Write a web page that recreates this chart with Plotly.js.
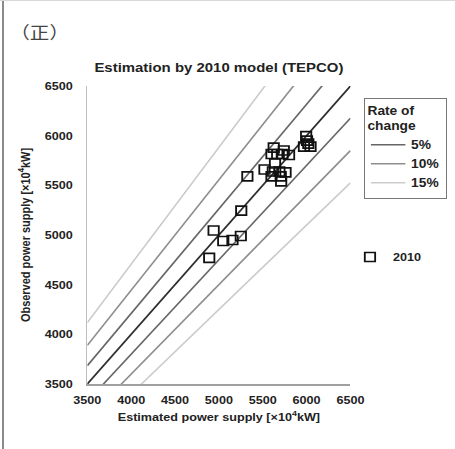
<!DOCTYPE html>
<html>
<head>
<meta charset="utf-8">
<script src="https://cdn.plot.ly/plotly-3.0.1.min.js"></script>
<style>
  html, body { margin: 0; padding: 0; background: #fff; overflow: hidden; }
  #wrap { position: absolute; left: 0; top: 0; width: 455px; height: 449px; overflow: hidden; }
  #chart { position: absolute; left: 0; top: 0; transform-origin: 0 0; }
  #frameL { position: absolute; left: 2px; top: 0; width: 2px; height: 449px; background: #8a8a8a; }
  #frameT { position: absolute; left: 0; top: 0; width: 455px; height: 1px; background: #d8d8d8; }
</style>
</head>
<body>
<div id="wrap"><div id="chart"></div></div>
<div id="frameL"></div>
<div id="frameT"></div>
<script>
// ---- data ----
const axisRange = [3500, 6500];
const tickValues = [3500, 4000, 4500, 5000, 5500, 6000, 6500];
const tickLabels = ['3500', '4000', '4500', '5000', '5500', '6000', '6500'];
const rates = [0.05, 0.10, 0.15];
const rateLabels = ['5%', '10%', '15%'];
const seriesName = '2010';
const estimated = [4890, 4940, 5050, 5155, 5250, 5255, 5325, 5520, 5600, 5615, 5625, 5600, 5665, 5725, 5740, 5800, 5640, 5690, 5760, 5710, 5705, 5995, 6005, 5970, 6045, 6020];
const observed  = [4770, 5045, 4940, 4950, 4990, 5245, 5590, 5660, 5590, 5640, 5880, 5815, 5815, 5815, 5850, 5805, 5720, 5640, 5630, 5540, 5590, 5995, 5950, 5890, 5890, 5920];

// ---- styles / geometry ----
const rateColors = ['#666666', '#8e8e8e', '#cccccc'];
const FONT = 'Liberation Sans, Arial, sans-serif';
const SX = 1.15;                 // the reference picture is stretched horizontally
const W = 455, H = 449;          // final picture size
const L = 87, R = 351, T = 86, B = 384;   // plot area in the final picture
const W0 = Math.round(W / SX);
const ML = Math.round(L / SX), MR = W0 - Math.round(R / SX);
const px2x = p => (p - L) / (R - L);
const px2y = p => (B - p) / (B - T);
const cx = p => p / W;           // container fractions
const cy = p => 1 - p / H;

const chartDiv = document.getElementById('chart');
chartDiv.style.width = W0 + 'px';
chartDiv.style.height = H + 'px';
chartDiv.style.transform = 'scaleX(' + (W / W0) + ')';

const traces = [];
// 1:1 line
traces.push({
  x: axisRange, y: axisRange, mode: 'lines', showlegend: false,
  line: { color: '#2e2e2e', width: 1.6 }, hoverinfo: 'skip'
});
// rate-of-change lines (upper: x/(1-r), lower: x*(1-r))
rates.forEach((r, i) => {
  const xs = [axisRange[0], axisRange[1], null, axisRange[0], axisRange[1]];
  const ys = [axisRange[0] / (1 - r), axisRange[1] / (1 - r), null, axisRange[0] * (1 - r), axisRange[1] * (1 - r)];
  traces.push({
    x: xs, y: ys, mode: 'lines', name: rateLabels[i], legend: 'legend',
    line: { color: rateColors[i], width: 1.5 }, connectgaps: false
  });
});
// observations
traces.push({
  x: estimated, y: observed, mode: 'markers', name: seriesName, legend: 'legend2',
  marker: { symbol: 'square-open', size: 9, color: '#111', line: { color: '#111', width: 1.6 } }
});

const tickFont = { family: FONT, size: 11, color: '#222', weight: 'bold' };
const axisCommon = {
  range: axisRange, tickvals: tickValues, ticktext: tickLabels,
  showline: true, ticks: '', showgrid: false, zeroline: false, automargin: false,
  tickfont: tickFont
};

const layout = {
  width: W0, height: H,
  margin: { l: ML, r: MR, t: T, b: H - B, pad: 0, autoexpand: false },
  paper_bgcolor: '#fff', plot_bgcolor: '#fff',
  title: {
    text: 'Estimation by 2010 model (TEPCO)',
    font: { family: FONT, size: 13, color: '#222', weight: 'bold' },
    xref: 'paper', x: 0.5, xanchor: 'center',
    yref: 'container', y: cy(67), yanchor: 'middle'
  },
  xaxis: Object.assign({}, axisCommon, {
    linecolor: '#a0a0a0', linewidth: 1.5,
    ticklabelstandoff: 5,
    title: { text: 'Estimated power supply [×10<sup>4</sup>kW]', standoff: 8,
             font: { family: FONT, size: 11, color: '#222', weight: 'bold' } }
  }),
  yaxis: Object.assign({}, axisCommon, {
    linecolor: '#bdbdbd', linewidth: 1.5,
    ticklabelstandoff: 9,
    title: { text: 'Observed power supply [×10<sup>4</sup>kW]', standoff: 10,
             font: { family: FONT, size: 11, color: '#222', weight: 'bold' } }
  }),
  legend: {
    title: { text: 'Rate of<br>change', font: { family: FONT, size: 12, color: '#222', weight: 'bold' } },
    font: { family: FONT, size: 12, color: '#222', weight: 'bold' },
    bordercolor: '#777', borderwidth: 1, bgcolor: '#fff',
    xref: 'container', yref: 'container',
    x: cx(364), xanchor: 'left', y: cy(98), yanchor: 'top',
    itemwidth: 30
  },
  legend2: {
    font: { family: FONT, size: 11, color: '#222', weight: 'bold' },
    bgcolor: 'rgba(0,0,0,0)', borderwidth: 0,
    xref: 'container', yref: 'container',
    x: cx(347), xanchor: 'left', y: cy(257), yanchor: 'middle',
    itemsizing: 'trace', itemwidth: 30
  },
  annotations: [{
    text: '（正）', showarrow: false,
    xref: 'paper', yref: 'paper', x: px2x(39), y: px2y(31),
    xanchor: 'center', yanchor: 'middle',
    font: { family: 'Noto Sans CJK JP', size: 17, color: '#444' }
  }],
  showlegend: true
};

Plotly.newPlot('chart', traces, layout, { staticPlot: true, displayModeBar: false });
</script>
</body>
</html>
